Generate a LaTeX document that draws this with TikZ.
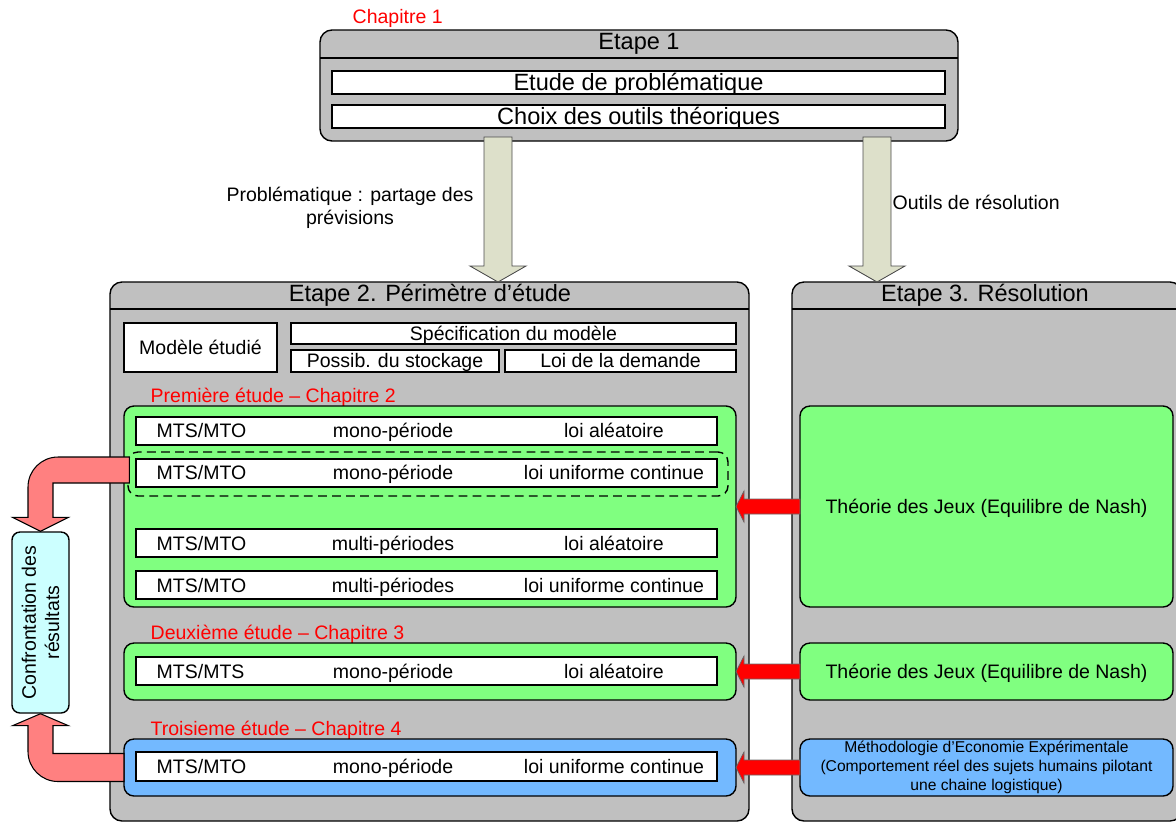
\documentclass[tikz,border=0pt]{standalone}
\usepackage{fontspec}
\setmainfont{Liberation Sans}
\usetikzlibrary{calc}

\definecolor{etapegray}{HTML}{C0C0C0}
\definecolor{studygreen}{HTML}{80FF80}
\definecolor{studyblue}{HTML}{73B9FF}
\definecolor{confcyan}{HTML}{CCFFFF}
\definecolor{bentpink}{HTML}{FF8080}
\definecolor{flowolive}{HTML}{DDE0CA}

\tikzset{
  etape/.style={draw, fill=etapegray, rounded corners=0.24cm, inner sep=0, outer sep=0},
  study/.style={draw, rounded corners=0.2cm, inner sep=0, outer sep=0},
  cell/.style={draw, fill=white, inner sep=0, outer sep=0},
  wh/.style 2 args={minimum width=#1*0.02cm, minimum height=#2*0.02cm},
  title/.style={font=\fontsize{13.4}{16}\selectfont},
  txt/.style={font=\fontsize{11.1}{13.3}\selectfont},
  smalltxt/.style={font=\fontsize{8.9}{10.8}\selectfont},
  captitle/.style={title, text height=9.6pt, text depth=0pt},
  captxt/.style={txt, text height=7.95pt, text depth=0pt},
  chap/.style={txt, text=red, anchor=west, inner sep=0},
  flowarrow/.style={fill=flowolive, draw=black!70, line width=0.5pt},
  redarrow/.style={fill=red, draw=black!60, line width=0.4pt},
  bentarrow/.style={fill=bentpink, draw=black, line width=0.6pt},
}

% block arrow pointing down, from #2 to #3
\newcommand{\downblock}[3]{%
  \filldraw[#1] let \p1=(#2), \p2=(#3) in
    (\x1-0.28cm,\y1) -- (\x1+0.28cm,\y1) -- (\x1+0.28cm,\y2+0.32cm) -- (\x1+0.56cm,\y2+0.32cm)
    -- (\x1,\y2) -- (\x1-0.56cm,\y2+0.32cm) -- (\x1-0.28cm,\y2+0.32cm) -- cycle;}
% block arrow pointing left, from #2 to #3
\newcommand{\leftblock}[3]{%
  \filldraw[#1] let \p1=(#2), \p2=(#3) in
    (\x1,\y1+0.15cm) -- (\x2+0.16cm,\y1+0.15cm) -- (\x2+0.16cm,\y1+0.31cm) -- (\x2,\y1)
    -- (\x2+0.16cm,\y1-0.31cm) -- (\x2+0.16cm,\y1-0.15cm) -- (\x1,\y1-0.15cm) -- cycle;}
% the three texts of a row
\newcommand{\celltexts}[4]{%
  \node[captxt, anchor=west, inner sep=0] (#1a) at ([xshift=0.4cm]#1.west) {#2};
  \node[captxt, inner sep=0] (#1b) at ([xshift=-0.67cm]#1.center) {#3};
  \node[captxt, inner sep=0] (#1c) at ([xshift=3.75cm]#1.center) {#4};}

\begin{document}
\begin{tikzpicture}[x=0.02cm, y=-0.02cm, line width=0.8pt]
\useasboundingbox (0,0) rectangle (1176,823);

% Etape 1
\node[chap] (chap1) at (352,18) {Chapitre 1};
\node[etape, wh={638}{111}] (e1) at (639,85.5) {};
\draw ([yshift=-0.56cm]e1.north west) -- ([yshift=-0.56cm]e1.north east);
\node[title] (e1t) at (639,44) {Etape 1};
\node[cell, wh={613}{23}, captitle] (c11) at (638.5,82.5) {Etude de probl\'ematique};
\node[cell, wh={613}{23}, captitle] (c12) at (638.5,116.5) {Choix des outils th\'eoriques};

% Etape 2 and Etape 3
\node[etape, wh={639}{539}] (e2) at (429.5,551.5) {};
\draw ([yshift=-0.54cm]e2.north west) -- ([yshift=-0.54cm]e2.north east);
\node[title] (e2t) at (430,295) {Etape 2. P\'erim\`etre d'\'etude};
\node[etape, wh={390}{539}] (e3) at (987,551.5) {};
\draw ([yshift=-0.54cm]e3.north west) -- ([yshift=-0.54cm]e3.north east);
\node[title] (e3t) at (985,295) {Etape 3. R\'esolution};

% model
\node[cell, wh={153}{49}, captxt] (m0) at (200.5,347.5) {Mod\`ele \'etudi\'e};
\node[cell, wh={445}{21}, captxt] (spec) at (513.5,333.5) {Sp\'ecification du mod\`ele};
\node[cell, wh={208}{22}, captxt] (stock) at (395,361) {Possib. du stockage};
\node[cell, wh={231}{22}, captxt] (dem) at (620.5,361) {Loi de la demande};

% studies
\node[chap] (chap2) at (150,397) {Premi\`ere \'etude -- Chapitre 2};
\node[study, fill=studygreen, wh={612}{201}] (g1) at (430,506.5) {};
\node[cell, wh={581}{28}] (r1) at (426.5,431) {};
\node[cell, wh={581}{28}] (r2) at (426.5,473) {};
\node[draw, dashed, dash pattern=on 5pt off 3pt, rounded corners=0.2cm, wh={600}{44}] (dash) at (428,474) {};
\node[cell, wh={581}{28}] (r3) at (426.5,543) {};
\node[cell, wh={581}{28}] (r4) at (426.5,585) {};
\celltexts{r1}{MTS/MTO}{mono-p\'eriode}{loi al\'eatoire}
\celltexts{r2}{MTS/MTO}{mono-p\'eriode}{loi uniforme continue}
\celltexts{r3}{MTS/MTO}{multi-p\'eriodes}{loi al\'eatoire}
\celltexts{r4}{MTS/MTO}{multi-p\'eriodes}{loi uniforme continue}

\node[chap] (chap3) at (150,634) {Deuxi\`eme \'etude -- Chapitre 3};
\node[study, fill=studygreen, wh={612}{57}] (g2) at (430,671.5) {};
\node[cell, wh={581}{28}] (r5) at (426.5,671) {};
\celltexts{r5}{MTS/MTS}{mono-p\'eriode}{loi al\'eatoire}

\node[chap] (chap4) at (150,730) {Troisieme \'etude -- Chapitre 4};
\node[study, fill=studyblue, wh={612}{57}] (g3) at (430,767.5) {};
\node[cell, wh={581}{29}] (r6) at (426.5,766.5) {};
\celltexts{r6}{MTS/MTO}{mono-p\'eriode}{loi uniforme continue}

% resolution
\node[study, fill=studygreen, wh={373}{201}, captxt] (th1) at (986.5,506.5) {Th\'eorie des Jeux (Equilibre de Nash)};
\node[study, fill=studygreen, wh={373}{57}, captxt] (th2) at (986.5,671.5) {Th\'eorie des Jeux (Equilibre de Nash)};
\node[study, fill=studyblue, wh={373}{57}, smalltxt, align=center] (th3) at (986.5,767.5)
  {M\'ethodologie d'Economie Exp\'erimentale\\(Comportement r\'eel des sujets humains pilotant\\une chaine logistique)};

% confrontation
\node[draw, fill=confcyan, rounded corners=0.16cm, wh={181}{57}, rotate=90, txt, align=center] (conf) at (40.5,622.5)
  {Confrontation des\\r\'esultats};

% flows from Etape 1
\node[txt, align=center] (lab1) at (350,208) {Probl\'ematique : partage des\\pr\'evisions};
\node[txt, anchor=west, inner sep=0] (lab2) at (892,202) {Outils de r\'esolution};
\coordinate (ax1) at (498,0);
\coordinate (ax2) at (877,0);
\downblock{flowarrow}{$(ax1 |- e1.south)+(0,-4)$}{ax1 |- e2.north}
\downblock{flowarrow}{$(ax2 |- e1.south)+(0,-4)$}{ax2 |- e2.north}

% tools into studies
\leftblock{redarrow}{th1.west}{g1.east |- th1.west}
\leftblock{redarrow}{th2.west}{g2.east |- th2.west}
\leftblock{redarrow}{th3.west}{g3.east |- th3.west}

% results to compare
\filldraw[bentarrow] let \p1=(conf.east), \p2=(dash.west) in
  (\x2+0.04cm,\y2+0.34cm) -- (\x1-0.25cm+0.6cm,\y2+0.34cm)
  arc[start angle=90, end angle=180, radius=0.6cm]
  -- (\x1-0.25cm,\y1+0.28cm) -- (\x1-0.56cm,\y1+0.28cm) -- (\x1,\y1)
  -- (\x1+0.56cm,\y1+0.28cm) -- (\x1+0.25cm,\y1+0.28cm) -- (\x1+0.25cm,\y2-0.18cm)
  -- (\x2+0.04cm,\y2-0.18cm) -- cycle;
\filldraw[bentarrow] let \p1=(conf.west), \p2=(g3.west) in
  (\x1,\y1) -- (\x1+0.56cm,\y1-0.24cm) -- (\x1+0.25cm,\y1-0.24cm) -- (\x1+0.25cm,\y2+0.28cm)
  -- (\x2,\y2+0.28cm) -- (\x2,\y2-0.28cm) -- (\x1-0.25cm+0.6cm,\y2-0.28cm)
  arc[start angle=270, end angle=180, radius=0.6cm]
  -- (\x1-0.25cm,\y1-0.24cm) -- (\x1-0.56cm,\y1-0.24cm) -- cycle;
\end{tikzpicture}
\end{document}
